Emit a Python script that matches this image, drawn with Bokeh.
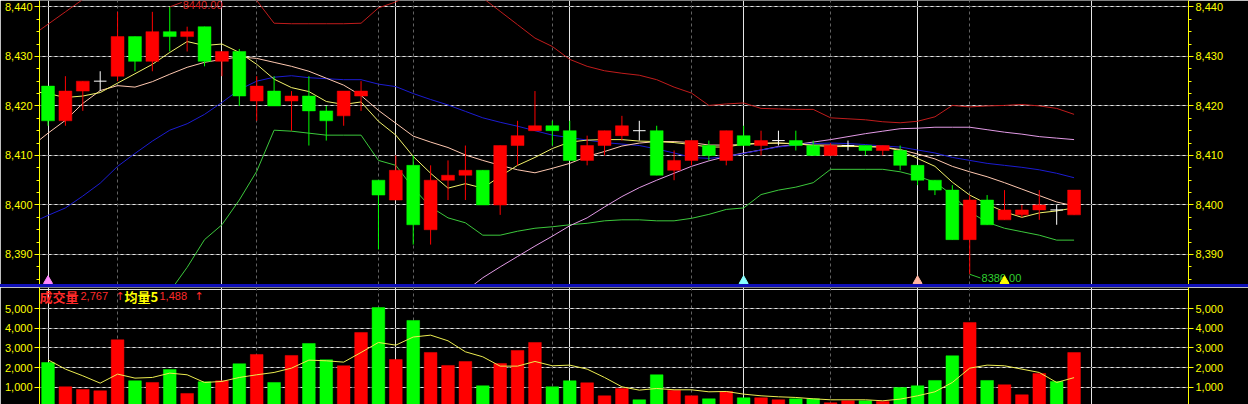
import numpy as np
from bokeh.plotting import figure
from bokeh.layouts import column
from bokeh.models import (Range1d, LinearAxis, FixedTicker, NumeralTickFormatter,
                          Grid, Label, Div, ColumnDataSource)
from bokeh.core.properties import value
from bokeh.embed import file_html
from bokeh.resources import INLINE

# ---------------- data ----------------
open_ = [8424, 8417, 8423, 8425, 8426, 8434, 8429, 8435, 8434, 8436,
         8429, 8431, 8421, 8423, 8421, 8422, 8419, 8418, 8422, 8405,
         8401, 8408, 8395, 8405, 8406, 8407, 8400, 8412, 8415, 8416,
         8415, 8409, 8412, 8414, 8415, 8415, 8407, 8409, 8412, 8409,
         8414, 8412, 8413, 8413, 8412, 8410, 8412, 8412, 8411, 8411,
         8408, 8405, 8403, 8393, 8401, 8397, 8398, 8399, 8399, 8398]
high = [8424, 8426, 8425, 8427, 8439, 8434, 8439, 8440, 8436, 8436,
        8431, 8431.5, 8426, 8426, 8423, 8426, 8420, 8423, 8425, 8405,
        8410, 8410, 8408, 8409, 8412, 8407, 8412, 8417, 8423, 8417,
        8417, 8414, 8415, 8418, 8417, 8416, 8411, 8413, 8413, 8415,
        8416, 8415, 8415, 8415, 8413, 8412.5, 8413, 8412, 8412, 8412,
        8408, 8405, 8404, 8402, 8402, 8403, 8400, 8403, 8400, 8403]
low = [8416, 8416, 8419, 8423, 8425, 8427, 8427, 8431, 8431, 8428,
       8426, 8420, 8417, 8420, 8415, 8412, 8413, 8416, 8419, 8391,
       8401, 8392, 8392, 8401, 8401, 8400, 8398, 8408, 8415, 8412,
       8409, 8408, 8410, 8413, 8413, 8406, 8405, 8408, 8409, 8408,
       8412, 8410, 8412, 8411, 8410, 8410, 8411, 8410, 8410, 8407,
       8404, 8402, 8393, 8386, 8396, 8397, 8397.5, 8397, 8396, 8398]
close = [8417, 8423, 8425, 8425, 8434, 8429, 8435, 8434, 8435, 8429,
         8431, 8422, 8424, 8420, 8422, 8419, 8417, 8423, 8423, 8402,
         8407, 8396, 8405, 8406, 8407, 8400, 8412, 8414, 8416, 8415,
         8409, 8412, 8415, 8416, 8415, 8406, 8409, 8413, 8410, 8415,
         8412, 8413, 8413, 8412, 8410, 8412, 8412, 8411, 8412, 8408,
         8405, 8403, 8393, 8401, 8396, 8399, 8399, 8400, 8399, 8403]
volume = [2260, 1020, 885, 816, 3418, 1327, 1241, 1905, 680, 1275,
          1327, 2194, 2670, 1241, 2619, 3231, 2398, 2092, 3792, 5068,
          2415, 4405, 2772, 2109, 2313, 1071, 2211, 2874, 3282, 1020,
          1327, 1224, 561, 935, 357, 1633, 850, 561, 408, 782,
          459, 459, 357, 408, 408, 204, 306, 306, 272, 986,
          1071, 1344, 2602, 4303, 1344, 1122, 612, 1701, 1293, 2767]
vol_ma5 = [2398, 1922, 1581, 1207, 1667, 1463, 1497, 1718, 1633, 1241,
           1293, 1497, 1633, 1752, 1973, 2381, 2347, 2279, 2772, 3282,
           3146, 3560, 3656, 3367, 2806, 2551, 2075, 2075, 2313, 2092,
           2126, 1922, 1497, 1020, 850, 935, 867, 867, 765, 782,
           646, 561, 510, 476, 408, 357, 357, 357, 306, 391,
           561, 765, 1241, 1973, 2126, 2092, 1922, 1752, 1241, 1488]

# indicator lines: first value belongs to the bar before the first candle
boll_upper = [8434, 8436.5, 8439, 8441.5, 8443.5, 8445.5, 8447, 8448, 8448.5, 8448, 8447,
              8445.5, 8443.5, 8441.3, 8436.7, 8436.6, 8436.6, 8436.6, 8436.6, 8436.7, 8439.8,
              8441.0, 8443, 8444, 8444, 8443, 8441.8, 8439.1, 8436.4, 8433.7, 8432,
              8429.4, 8428, 8427.1, 8426.6, 8426.2, 8425.3, 8423.8, 8422.6, 8420.1, 8420.4,
              8420.6, 8419.5, 8419.4, 8419.3, 8419.3, 8417.6, 8417.4, 8417.2, 8416.8, 8416.6,
              8416.9, 8417.8, 8420.1, 8419.8, 8420, 8420.1, 8420.3, 8420, 8419.5, 8418.3]
boll_mid = [8396.3, 8397.9, 8399.4, 8401.8, 8404.4, 8407.8, 8410.4, 8412.9, 8415.1, 8416.4, 8418.3,
            8420.7, 8423.3, 8425, 8425.8, 8426.1, 8425.7, 8425.5, 8425.3, 8425.3, 8424.4,
            8423.9, 8422.5, 8421.3, 8420.2, 8418.9, 8417.6, 8416.7, 8415.9, 8415, 8414.1,
            8413.6, 8413.1, 8412.6, 8412.3, 8412, 8411.3, 8410.5, 8409.6, 8409.4, 8409.8,
            8410.4, 8411.1, 8411.7, 8412.1, 8412.4, 8412.5, 8412.4, 8412.2, 8411.9, 8411.7,
            8411.1, 8410.5, 8409.6, 8409, 8408.4, 8408, 8407.6, 8407.1, 8406.4, 8405.5]
boll_lower = [8359, 8360, 8360, 8361.5, 8364, 8368, 8372.5, 8377.5, 8382.5, 8387.4, 8393,
              8396, 8401, 8406.8, 8415.1, 8414.9, 8414.5, 8414.1, 8414.1, 8414.1, 8409,
              8408, 8403.4, 8399.6, 8397.4, 8396.4, 8393.9, 8393.9, 8394.7, 8395.3, 8395.6,
              8396, 8396.3, 8396.8, 8397, 8397, 8396.8, 8396.8, 8397.3, 8398.1, 8399.1,
              8399.4, 8402.1, 8403, 8403.6, 8404.5, 8407.2, 8407.2, 8407.2, 8407.2, 8406.7,
              8405.8, 8404.6, 8402, 8398.6, 8396.5, 8395.3, 8394.6, 8393.9, 8392.9, 8392.9]
ma5 = [8423, 8422.5, 8421.7, 8422, 8422.7, 8424.6, 8426.5, 8428.4, 8430.8, 8433, 8432.2,
       8432.5, 8430.8, 8428.4, 8425.4, 8423.7, 8422.9, 8420.9, 8420.3, 8420.8, 8416.9,
       8414.1, 8409.8, 8406.4, 8403.4, 8404.3, 8403.4, 8405.8, 8408, 8409.6, 8411.4,
       8412.7, 8413.1, 8413.2, 8413.2, 8412.9, 8412.8, 8412.6, 8412.2, 8411.7, 8411.7,
       8412.3, 8412.5, 8412.5, 8412.4, 8412, 8411.8, 8411.8, 8411.8, 8411.7, 8411,
       8409.4, 8407.8, 8404.6, 8402, 8400.2, 8398.6, 8397.5, 8398.4, 8398.8, 8399.4]
ma10 = [8411.7, 8414.5, 8417.1, 8420.5, 8423.1, 8424.1, 8423.8, 8424.9, 8426.4, 8427.8, 8428.8,
        8429.4, 8429.9, 8429.6, 8428.8, 8428, 8427, 8425.6, 8424.2, 8422.1, 8419.1,
        8416.5, 8413.9, 8412.7, 8411.6, 8410.1, 8409, 8408, 8407.1, 8406.5, 8407.4,
        8408.4, 8409.8, 8410.8, 8411.9, 8412.5, 8412.8, 8412.8, 8412.6, 8412.1, 8412.1,
        8412.2, 8412.4, 8412.5, 8412.3, 8412.1, 8412.1, 8412, 8411.8, 8411.7, 8411.2,
        8410.3, 8409.3, 8407.8, 8406.7, 8405.7, 8404.5, 8403.2, 8401.9, 8400.6, 8399.8]
ma60 = [None] * 24 + [8380.5, 8382.6,
        8385.3, 8387.5, 8389.6, 8391.7, 8393.7, 8395.8, 8397.4, 8399.6, 8401.7, 8403.5,
        8405, 8406.4, 8407.8, 8408.9, 8409.8, 8410.5, 8411.1, 8411.8, 8412.2, 8412.7,
        8413.2, 8413.8, 8414.4, 8414.9, 8415.4, 8415.5, 8415.7, 8415.7, 8415.7, 8415.2,
        8414.7, 8414.3, 8413.8, 8413.5, 8413.2]

time_grid = [4, 12, 19, 21, 29, 37, 45, 53]
price_ticks = [8390, 8400, 8410, 8420, 8430, 8440]
vol_ticks = [1000, 2000, 3000, 4000, 5000]
signal_idx = [0, 40, 50, 55]
signal_colors = ["#ff88ff", "#88ffff", "#ffb4a0", "#ffff00"]

# ---------------- styling ----------------
RED = "#ff0000"
GREEN = "#00ff00"
WHITE = "#ffffff"
YELLOW = "#ffff00"
GRID = "#626262"
BG = "#000000"
NUMFONT = "Liberation Sans"

W = 1248
LEFT, RIGHT = 39, 60
PRICE_H, SEP_H, VOL_H = 284, 3, 117
X_LO, X_HI = -0.49, 65.58
P_LO, P_HI = 8383.94, 8441.29
V_LO, V_HI = 117, 6087

o = np.array(open_, float); h = np.array(high, float)
l = np.array(low, float); c = np.array(close, float)
n = len(c)
idx = np.arange(n)
line_x = np.arange(-1, n)

up = c > o
down = c < o
doji = c == o
candle_color = np.where(up, RED, np.where(down, GREEN, WHITE))
prev_c = np.r_[c[0], c[:-1]]
vol_color = np.where(up, RED, np.where(down, GREEN, np.where(c >= prev_c, RED, GREEN)))

x_range = Range1d(X_LO, X_HI)


def base_fig(height, y_range):
    f = figure(width=W, height=height, x_range=x_range, y_range=y_range,
               output_backend="svg", toolbar_location=None,
               x_axis_location=None, y_axis_location=None,
               background_fill_color=BG, border_fill_color=BG,
               outline_line_color=None,
               min_border_left=LEFT, min_border_right=RIGHT,
               min_border_top=0, min_border_bottom=0)
    return f


def add_grid_axes(f, ticks, minor):
    f.add_layout(Grid(dimension=0, ticker=FixedTicker(ticks=time_grid),
                      grid_line_color=GRID, grid_line_dash="3 3", grid_line_width=1))
    f.add_layout(Grid(dimension=1, ticker=FixedTicker(ticks=ticks),
                      grid_line_color=GRID, grid_line_dash="3 3", grid_line_width=1))
    for side in ("left", "right"):
        ax = LinearAxis(ticker=FixedTicker(ticks=ticks, minor_ticks=minor),
                        formatter=NumeralTickFormatter(format="0,0"))
        ax.axis_line_color = YELLOW
        ax.major_tick_line_color = YELLOW
        ax.minor_tick_line_color = YELLOW
        ax.major_tick_out = 5
        ax.major_tick_in = 0
        ax.minor_tick_out = 3
        ax.minor_tick_in = 0
        ax.major_label_standoff = 2
        ax.major_label_text_color = YELLOW
        ax.major_label_text_font = NUMFONT
        ax.major_label_text_font_size = "11px"
        f.add_layout(ax, side)


# ---------------- price panel ----------------
pp = base_fig(PRICE_H, Range1d(P_LO, P_HI))
price_minor = [t + k * 2.5 for t in [price_ticks[0] - 10] + price_ticks for k in range(4)]
add_grid_axes(pp, price_ticks, price_minor)

lines = [(boll_upper, "#c01c1c"), (boll_lower, "#3cc83c"), (ma60, "#e29ae6"),
         (boll_mid, "#1c1cd2"), (ma10, "#ffc8b0"), (ma5, "#f2f26a")]
for vals, col in lines:
    pp.line(line_x, np.array(vals, dtype=float), line_color=col, line_width=1)

csrc = ColumnDataSource(dict(x=idx, h=h, l=l, color=candle_color))
pp.segment(x0="x", y0="l", x1="x", y1="h", line_color="color", line_width=1, source=csrc)

body = ~doji
bsrc = ColumnDataSource(dict(x=idx[body], top=np.maximum(o, c)[body],
                             bottom=np.minimum(o, c)[body], color=candle_color[body]))
pp.vbar(x="x", width=0.74, top="top", bottom="bottom", fill_color="color",
        line_color="color", line_width=0.5, source=bsrc)

dsrc = ColumnDataSource(dict(x0=idx[doji] - 0.36, x1=idx[doji] + 0.36, y=c[doji]))
pp.segment(x0="x0", y0="y", x1="x1", y1="y", line_color=WHITE, line_width=1, source=dsrc)

# high / low annotations
hi_i = int(np.argmax(h)); lo_i = int(np.argmin(l))
hx, hy = hi_i + 0.69, h[hi_i] + 0.9
lx, ly = lo_i + 0.62, l[lo_i] - 0.75
pp.segment(x0=[hi_i], y0=[h[hi_i]], x1=[hx], y1=[hy], line_color="#c82020", line_width=1)
pp.text(x=[hx], y=[P_HI - 0.2], text=[f"{h[hi_i]:.2f}"], x_offset=1, text_baseline="top",
        text_align="left", text_color="#d82020", text_font=value(NUMFONT), text_font_size="11px")
pp.segment(x0=[lo_i], y0=[l[lo_i]], x1=[lx], y1=[ly], line_color="#30c830", line_width=1)
pp.text(x=[lx], y=[ly], text=[f"{l[lo_i]:.2f}"], x_offset=1, text_baseline="middle",
        text_align="left", text_color="#30d030", text_font=value(NUMFONT), text_font_size="11px")

# signal triangles at the bottom of the price panel
pp.scatter(x=signal_idx, y=[P_LO + 0.73] * len(signal_idx), marker="triangle", size=9,
           fill_color=signal_colors, line_color=signal_colors)

sep = Div(text="", width=W, height=SEP_H, margin=0,
          styles={"background-color": "#1010b8"})

# ---------------- volume panel ----------------
vp = base_fig(VOL_H, Range1d(V_LO, V_HI))
add_grid_axes(vp, vol_ticks, [])
vsrc = ColumnDataSource(dict(x=idx, top=volume, color=vol_color))
vp.vbar(x="x", width=0.73, top="top", bottom=0, fill_color="color", line_color="color",
        line_width=0.5, source=vsrc)
vp.line(idx, vol_ma5, line_color="#ecec50", line_width=1)

hdr_red = "#ff2a2a"
header = [("成交量", hdr_red, "Noto Sans CJK SC", "bold", "13px", 0),
          (f"{volume[-1]:,}", hdr_red, NUMFONT, "normal", "11px", 41),
          ("↑", hdr_red, "DejaVu Sans", "normal", "11px", 76),
          ("均量5", YELLOW, "Noto Sans CJK SC", "bold", "13px", 85),
          (f"{vol_ma5[-1]:,}", hdr_red, NUMFONT, "normal", "11px", 120),
          ("↑", hdr_red, "DejaVu Sans", "normal", "11px", 155)]
for txt, col, font, style, size, dx in header:
    vp.add_layout(Label(x=X_LO, y=V_HI, x_offset=dx, y_offset=-8.5, text=txt,
                        text_color=col, text_font=font, text_font_style=style,
                        text_font_size=size, text_baseline="middle", text_align="left"))

layout = column(pp, sep, vp, spacing=0)
open("out.html", "w").write(file_html(layout, INLINE))
